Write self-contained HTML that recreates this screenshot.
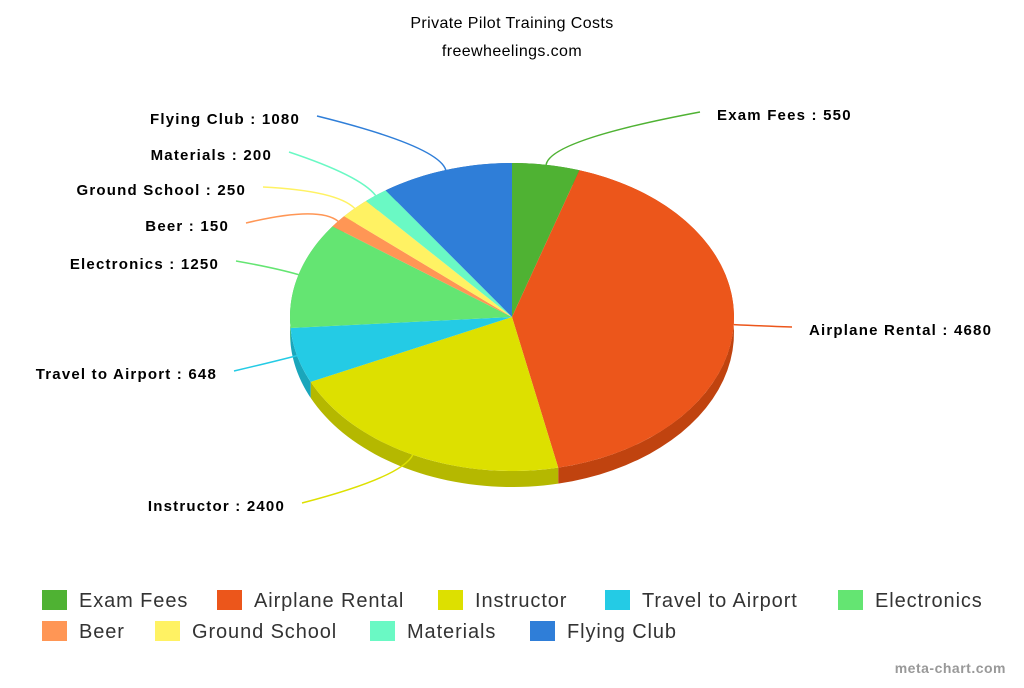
<!DOCTYPE html>
<html><head><meta charset="utf-8"><style>
body{margin:0;background:#fff;width:1024px;height:683px;overflow:hidden;font-family:"Liberation Sans",sans-serif}
</style></head><body>
<svg id="c" width="1024" height="683" xmlns="http://www.w3.org/2000/svg">
<text x="512" y="28" text-anchor="middle" font-size="16" letter-spacing="0.4" fill="#000">Private Pilot Training Costs</text>
<text x="512" y="56" text-anchor="middle" font-size="16" letter-spacing="0.4" fill="#000">freewheelings.com</text>
<g id="walls"></g><g id="tops"></g><g id="lbls"></g><g id="legend"></g>
<text x="1006" y="673" text-anchor="end" font-size="14" font-weight="bold" letter-spacing="0.5" fill="#999">meta-chart.com</text>
</svg>
<script>
const categories=["Exam Fees","Airplane Rental","Instructor","Travel to Airport","Electronics","Beer","Ground School","Materials","Flying Club"];
const values=[550,4680,2400,648,1250,150,250,200,1080];
const colors=["#4fb233","#ec561b","#dde000","#24cbe5","#64e572","#ff9655","#fff263","#6af9c4","#2f7ed8"];
const dark=["#3c8a26","#c0430f","#b5b800","#1aa6bb","#4fbf5b","#d97a40","#d6cb4c","#52d09f","#2563b0"];
const labelPos=[[717,115,"start"],[809,330,"start"],[285,506,"end"],[217,374,"end"],[219,264,"end"],[229,226,"end"],[246,190,"end"],[272,155,"end"],[300,119,"end"]];
const cx=512,cy=317,rx=222,ry=154,depth=16;
const NS="http://www.w3.org/2000/svg";
const total=values.reduce((a,b)=>a+b,0);
function pt(a,dy){return [cx+rx*Math.sin(a),cy-ry*Math.cos(a)+(dy||0)];}
function mk(t,attrs,parent){const e=document.createElementNS(NS,t);for(const k in attrs)e.setAttribute(k,attrs[k]);document.getElementById(parent).appendChild(e);return e;}
let acc=0;
values.forEach((v,i)=>{
 const a1=acc/total*2*Math.PI; acc+=v; const a2=acc/total*2*Math.PI;
 let top=[],bot=[];const n=40;
 for(let k=0;k<=n;k++){const a=a1+(a2-a1)*k/n;top.push(pt(a,0));bot.push(pt(a,depth));}
 const wd="M"+top.map(p=>p.join(",")).join("L")+"L"+bot.reverse().map(p=>p.join(",")).join("L")+"Z";
 const w=mk("path",{d:wd,fill:dark[i]},"walls");
 
 
 const p1=pt(a1),p2=pt(a2),large=(a2-a1)>Math.PI?1:0;
 const d=`M${cx},${cy}L${p1[0]},${p1[1]}A${rx},${ry} 0 ${large} 1 ${p2[0]},${p2[1]}Z`;
 const s=mk("path",{d:d,fill:colors[i]},"tops");
 
 
 const am=(a1+a2)/2;const e=pt(am);const lp=labelPos[i];
 const ex=lp[2]=="start"?lp[0]-17:lp[0]+17, ey=lp[1]-3;
 const cxm=e[0]+(Math.sin(am))*25, cym=e[1]-Math.cos(am)*25;
 const l=mk("path",{d:`M${e[0]},${e[1]}Q${cxm},${cym} ${ex},${ey}`,fill:"none",stroke:colors[i],"stroke-width":1.5},"lbls");
 
 
 const t=mk("text",{x:lp[0],y:lp[1]+5,"text-anchor":lp[2],"font-size":15,"font-weight":"bold","letter-spacing":1.2,fill:"#000"},"lbls");
 t.textContent=categories[i]+" : "+values[i];
 
 
});
const leg=[[42,600],[217,600],[438,600],[605,600],[838,600],[42,631],[155,631],[370,631],[530,631]];
categories.forEach((c,i)=>{
 const r=mk("rect",{x:leg[i][0],y:leg[i][1]-10,width:25,height:20,fill:colors[i]},"legend");
 
 
 const t=mk("text",{x:leg[i][0]+37,y:leg[i][1]+7,"font-size":20,"letter-spacing":0.9,fill:"#333"},"legend");
 t.textContent=c;
 
 
});
</script>
</body></html>
